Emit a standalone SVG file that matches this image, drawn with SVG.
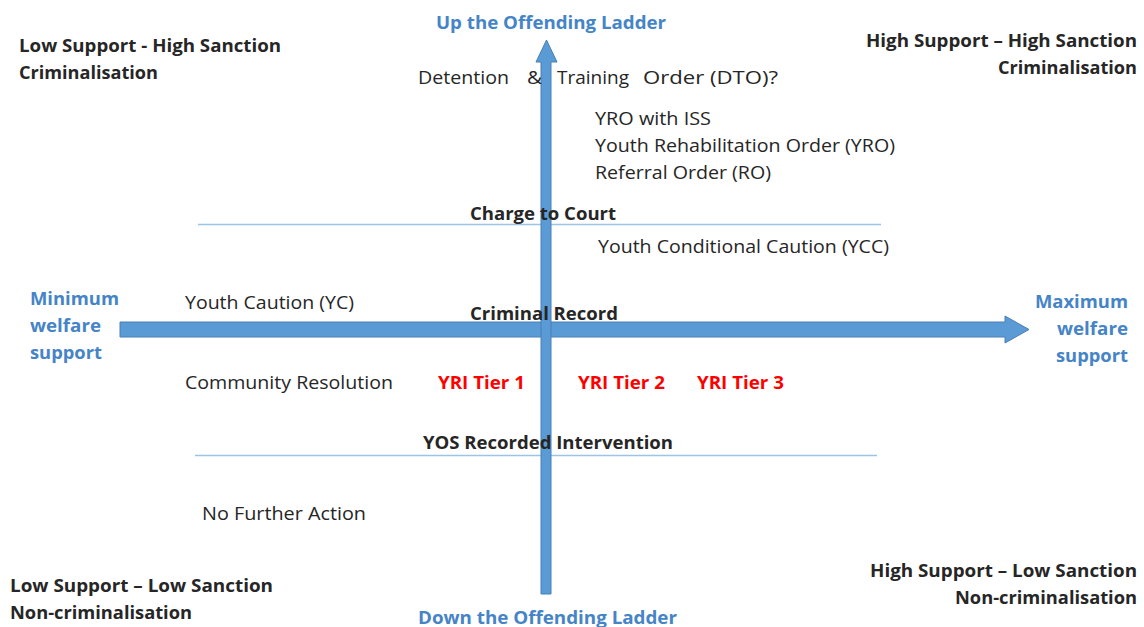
<svg xmlns="http://www.w3.org/2000/svg" width="1144" height="627" viewBox="0 0 1144 627">
<style>
text{font-family:"Open Sans","Liberation Sans",sans-serif;font-size:18px;fill:#262626}
.b{font-weight:bold}
.blue{fill:#4584c6;font-weight:bold}
.red{fill:#ff0000;font-weight:bold}
.r{text-anchor:end}
.arrow{fill:#5b9bd5;stroke:#4a7fb5;stroke-width:1}
.thin{stroke:#9dc3e6;stroke-width:1.3;fill:none}
</style>
<rect width="1144" height="627" fill="#ffffff"/>
<g id="connectors">
  <line class="thin" x1="198" y1="224.5" x2="881" y2="224.5"/>
  <line class="thin" x1="195" y1="455.5" x2="877" y2="455.5"/>
  <polygon class="arrow" points="120,322 1005,322 1005,316 1029,329.5 1005,343 1005,337 120,337"/>
  <polygon class="arrow" points="541,594 541,62 536,62 546.5,40 557,62 551,62 551,594"/>
</g>
<g id="axis-top"><text class="blue" x="436" y="29" textLength="230" lengthAdjust="spacingAndGlyphs">Up the Offending Ladder</text></g>
<g id="axis-bottom"><text class="blue" x="418" y="624" textLength="259" lengthAdjust="spacingAndGlyphs">Down the Offending Ladder</text></g>
<g id="axis-left">
  <text class="blue" x="30" y="305" textLength="89" lengthAdjust="spacingAndGlyphs">Minimum</text>
  <text class="blue" x="30" y="332" textLength="71" lengthAdjust="spacingAndGlyphs">welfare</text>
  <text class="blue" x="30" y="359" textLength="72" lengthAdjust="spacingAndGlyphs">support</text>
</g>
<g id="axis-right">
  <text class="blue r" x="1128" y="308" textLength="93" lengthAdjust="spacingAndGlyphs">Maximum</text>
  <text class="blue r" x="1128" y="335" textLength="71" lengthAdjust="spacingAndGlyphs">welfare</text>
  <text class="blue r" x="1128" y="362" textLength="72" lengthAdjust="spacingAndGlyphs">support</text>
</g>
<g id="quadrant-top-left">
  <text class="b" x="19" y="52" textLength="262" lengthAdjust="spacingAndGlyphs">Low Support - High Sanction</text>
  <text class="b" x="19" y="79" textLength="139" lengthAdjust="spacingAndGlyphs">Criminalisation</text>
</g>
<g id="quadrant-top-right">
  <text class="b r" x="1137" y="47" textLength="271" lengthAdjust="spacingAndGlyphs">High Support – High Sanction</text>
  <text class="b r" x="1137" y="74" textLength="139" lengthAdjust="spacingAndGlyphs">Criminalisation</text>
</g>
<g id="quadrant-bottom-left">
  <text class="b" x="10" y="592" textLength="263" lengthAdjust="spacingAndGlyphs">Low Support – Low Sanction</text>
  <text class="b" x="10" y="619" textLength="182" lengthAdjust="spacingAndGlyphs">Non-criminalisation</text>
</g>
<g id="quadrant-bottom-right">
  <text class="b r" x="1137" y="577" textLength="267" lengthAdjust="spacingAndGlyphs">High Support – Low Sanction</text>
  <text class="b r" x="1137" y="604" textLength="182" lengthAdjust="spacingAndGlyphs">Non-criminalisation</text>
</g>
<g id="dto">
  <text x="418" y="84" textLength="91" lengthAdjust="spacingAndGlyphs">Detention</text>
  <text x="527" y="84" textLength="15" lengthAdjust="spacingAndGlyphs">&amp;</text>
  <text x="557" y="84" textLength="72" lengthAdjust="spacingAndGlyphs">Training</text>
  <text x="643" y="84" textLength="135" lengthAdjust="spacingAndGlyphs">Order (DTO)?</text>
</g>
<g id="orders">
  <text x="595" y="125" textLength="116" lengthAdjust="spacingAndGlyphs">YRO with ISS</text>
  <text x="595" y="152" textLength="300" lengthAdjust="spacingAndGlyphs">Youth Rehabilitation Order (YRO)</text>
  <text x="595" y="179" textLength="176" lengthAdjust="spacingAndGlyphs">Referral Order (RO)</text>
</g>
<g id="charge-to-court"><text class="b" x="470" y="220" textLength="146" lengthAdjust="spacingAndGlyphs">Charge to Court</text></g>
<g id="ycc"><text x="598" y="253" textLength="291" lengthAdjust="spacingAndGlyphs">Youth Conditional Caution (YCC)</text></g>
<g id="yc"><text x="185" y="309" textLength="169" lengthAdjust="spacingAndGlyphs">Youth Caution (YC)</text></g>
<g id="criminal-record"><text class="b" x="470" y="320" textLength="148" lengthAdjust="spacingAndGlyphs">Criminal Record</text></g>
<g id="community-resolution"><text x="185" y="389" textLength="208" lengthAdjust="spacingAndGlyphs">Community Resolution</text></g>
<g id="yri-1"><text class="red" x="438" y="389" textLength="87" lengthAdjust="spacingAndGlyphs">YRI Tier 1</text></g>
<g id="yri-2"><text class="red" x="578" y="389" textLength="87" lengthAdjust="spacingAndGlyphs">YRI Tier 2</text></g>
<g id="yri-3"><text class="red" x="697" y="389" textLength="87" lengthAdjust="spacingAndGlyphs">YRI Tier 3</text></g>
<g id="yos-recorded"><text class="b" x="423" y="449" textLength="250" lengthAdjust="spacingAndGlyphs">YOS Recorded Intervention</text></g>
<g id="nfa"><text x="202" y="520" textLength="164" lengthAdjust="spacingAndGlyphs">No Further Action</text></g>
</svg>
